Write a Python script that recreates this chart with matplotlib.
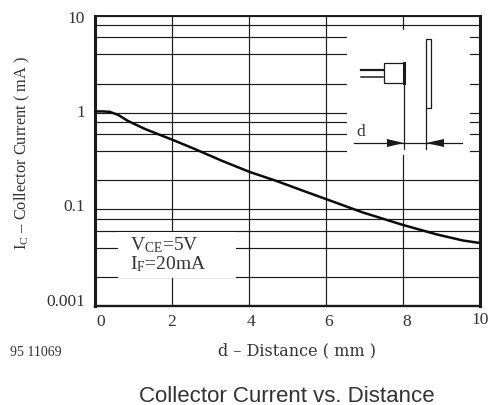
import matplotlib
matplotlib.use('Agg')
import matplotlib.pyplot as plt
from matplotlib.patches import Rectangle, Polygon
from matplotlib.transforms import ScaledTranslation

plt.rcParams['font.family'] = 'Liberation Serif'
plt.rcParams['mathtext.fontset'] = 'custom'
plt.rcParams['mathtext.rm'] = 'Liberation Serif'
plt.rcParams['mathtext.it'] = 'Liberation Serif'

# Data
distance = [0, 0.2, 0.38, 0.6, 0.86, 1.3, 2.03, 2.6, 3.3, 4.03, 4.73, 5.33, 6, 6.97, 8.01, 8.89, 9.57, 10]
current = [1.03, 1.03, 1.02, 0.95, 0.82, 0.678, 0.521, 0.42, 0.318, 0.243, 0.196, 0.16, 0.128, 0.0927, 0.0689, 0.055, 0.0476, 0.0449]
x_ticks = [0, 2, 4, 6, 8, 10]
x_labels = ['0', '2', '4', '6', '8', '10']
y_ticks = [10, 1, 0.1, 0.01]
y_labels = ['10', '1', '0.1', '0.001']
y_lines = [8, 6, 4, 2, 0.8, 0.6, 0.4, 0.2, 0.08, 0.06, 0.04, 0.02]

INK = '#1a1a1a'
TXT = '#333333'

fig = plt.figure(figsize=(4.89, 4.05), dpi=100)
ax = fig.add_axes([95 / 489, 1 - 306 / 405, 384.5 / 489, 290 / 405])
ax.set_yscale('log')
ax.set_xlim(0, 10)
ax.set_ylim(0.01, 10)

# Grid
ax.set_xticks(x_ticks, x_labels)
ax.set_yticks(y_ticks, y_labels)
ax.set_yticks(y_lines, [''] * len(y_lines), minor=True)
ax.grid(True, which='both', color=INK, linewidth=0.85)
ax.tick_params(which='both', length=0, labelsize=12.5, labelcolor=TXT)
ax.tick_params(axis='x', pad=6)
ax.tick_params(axis='y', pad=7)
ax.set_axisbelow(True)

# Curve
ax.plot(distance, current, color='#0a0a0a', linewidth=1.8, solid_joinstyle='round', solid_capstyle='butt', clip_on=False, zorder=3)

# Frame
widths = {'left': 2.2, 'right': 2.2, 'top': 1.4, 'bottom': 1.7}
for side, w in widths.items():
    ax.spines[side].set_linewidth(w)
    ax.spines[side].set_color(INK)

# Labels sit a little off their lines in the original
x_shift = [(6, 0), (0, 0), (2, 0), (3, 0), (4, 0), (1, 2)]
y_shift = [-1, 2, 4, 6]
for lab, (dx, dy) in zip(ax.get_xticklabels(), x_shift):
    lab.set_transform(lab.get_transform() + ScaledTranslation(dx / 100, dy / 100, fig.dpi_scale_trans))
for lab, dy in zip(ax.get_yticklabels(), y_shift):
    lab.set_transform(lab.get_transform() + ScaledTranslation(0, dy / 100, fig.dpi_scale_trans))

# Overlay in pixel coordinates for the inset and free text
ov = fig.add_axes([0, 0, 1, 1])
ov.set_xlim(0, 489)
ov.set_ylim(405, 0)
ov.axis('off')
ov.patch.set_alpha(0)

# Gaps in the grid
ov.add_patch(Rectangle((347, 30), 123, 125, facecolor='white', edgecolor='none'))
ov.add_patch(Rectangle((118, 232), 118, 46, facecolor='white', edgecolor='none'))

# Sensor sketch
ov.add_patch(Rectangle((383.5, 63), 20, 20, facecolor='white', edgecolor=INK, linewidth=0.9))
ov.plot([404, 404], [63, 83], color=INK, linewidth=2.2)
ov.plot([361, 383], [70, 70], color=INK, linewidth=1.6)
ov.plot([361, 383], [77, 77], color=INK, linewidth=1.1)
ov.plot([404, 404], [83, 149], color=INK, linewidth=0.9)
ov.add_patch(Rectangle((426, 39), 5, 69, facecolor='white', edgecolor=INK, linewidth=0.9))
ov.plot([426, 426], [108, 149], color=INK, linewidth=0.9)
ov.plot([354, 462], [143, 143], color=INK, linewidth=0.9)
ov.add_patch(Polygon([(387, 139), (404, 143), (387, 147)], facecolor=INK, edgecolor='none'))
ov.add_patch(Polygon([(444, 139), (426, 143), (444, 147)], facecolor=INK, edgecolor='none'))
ov.text(361, 132, 'd', fontsize=12.5, color=TXT, ha='center', va='center')

# Conditions
ov.text(130, 245, r'V$_{\mathrm{CE}}$=5V', fontsize=14, color=TXT, ha='left', va='center')
ov.text(130, 264, r'I$_{\mathrm{F}}$=20mA', fontsize=14, color=TXT, ha='left', va='center')

# Axis titles
ov.text(297, 351, 'd – Distance ( mm )', fontsize=11.5, color=TXT, family='DejaVu Serif', ha='center', va='center')
ov.text(22, 153, r'I$_{\mathrm{C}}$ – Collector Current ( mA )', fontsize=11.8, color=TXT,
        rotation=90, ha='center', va='center')
ov.text(36, 352, '95 11069', fontsize=10, color=TXT, ha='center', va='center')
ov.text(287, 396, 'Collector Current vs. Distance', fontsize=16, color=TXT,
        family='Liberation Sans', ha='center', va='center')

fig.savefig('out.png', dpi=100)
